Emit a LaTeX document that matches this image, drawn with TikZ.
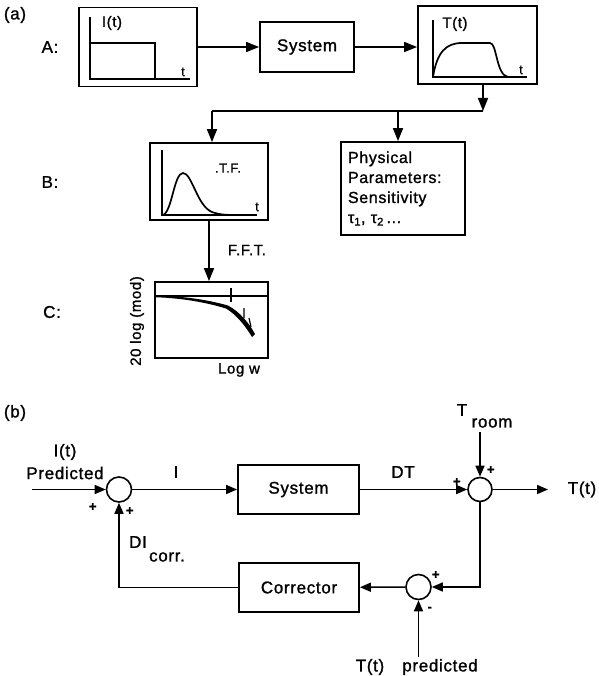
\documentclass[tikz,border=0pt]{standalone}
\usepackage{fontspec}
\setmainfont{Liberation Sans}[LetterSpace=4,FakeBold=1.2]
\usetikzlibrary{arrows.meta}
\begin{document}
\begin{tikzpicture}[x=1pt,y=-1pt,
  box/.style={draw,line width=1.8pt,inner sep=0pt},
  conn/.style={line width=1.6pt},
  arr/.style={conn,-{Triangle[length=13pt,width=10pt]}},
  sarr/.style={conn,-{Triangle[length=11pt,width=9pt]}},
  lbl/.style={font=\fontsize{17}{20}\selectfont,inner sep=0pt},
  mid/.style={font=\fontsize{15}{18}\selectfont,inner sep=0pt},
  sml/.style={font=\fontsize{13}{15}\selectfont,inner sep=0pt},
  plot/.style={line width=1.7pt},
  sumnode/.style={circle,draw,line width=1.6pt,minimum size=25pt,inner sep=0pt}]
\useasboundingbox (0,0) rectangle (598,676);

% ---------- part (a) ----------
\node[lbl] (la) at (15,15) {(a)};
\node[lbl] (lA) at (50,47) {A:};
\node[lbl] (lB) at (50,182) {B:};
\node[lbl] (lC) at (52,312) {C:};

\node[box,minimum width=118pt,minimum height=79pt] (ibox) at (138,47) {};
\node[box,minimum width=94pt,minimum height=50pt,lbl] (sysa) at (307,47) {System};
\node[box,minimum width=119pt,minimum height=78pt] (tbox) at (477.5,45) {};
\node[box,minimum width=118pt,minimum height=77pt] (bbox) at (209,181.5) {};
\node[box,minimum width=124pt,minimum height=93pt,align=left,text width=110pt,
      font=\fontsize{16}{20}\selectfont] (pbox) at (403,188.5)
      {Physical\\Parameters:\\Sensitivity\\τ\textsubscript{1}, τ\textsubscript{2}\,...};
\node[box,minimum width=113pt,minimum height=76pt] (cbox) at (211.5,320) {};

% I(t) plot
\draw[plot] (90,17) -- (90,79) -- (190,79);
\draw[plot] (90,43) -- (155,43) -- (155,79);
\node[mid] (it) at (112,23) {I(t)};
\node[sml] (ita) at (183,72) {t};

% T(t) plot
\draw[plot] (433,20) -- (433,77) -- (527,77);
\draw[plot] (433,77) .. controls (437,52) and (446,43) .. (462,43) -- (490,43)
  .. controls (497,43) and (496,75) .. (508,77);
\node[mid] (tt) at (455,24) {T(t)};
\node[sml] (tta) at (521,70) {t};

% T.F. plot
\draw[plot] (162,150) -- (162,215) -- (257,215);
\draw[plot] (163,215) .. controls (172,212) and (174,173) .. (183,173)
  .. controls (192,173) and (197,206) .. (212,212) .. controls (220,215) and (228,215) .. (235,215);
\node[sml] (tf) at (228,168) {.T.F.};
\node[sml] (tfa) at (257,207) {t};

% Bode plot
\draw[line width=1.5pt] (cbox.west |- 0,296) -- (cbox.east |- 0,296);
\draw[line width=1.3pt] (231,288) -- (231,302);
\fill (155,295.5) .. controls (180,296) and (205,299) .. (228,305.5)
  .. controls (240,312) and (249,323) .. (255,334) -- (252,337)
  .. controls (246,327) and (237,315) .. (226,308.5)
  .. controls (205,302) and (180,298) .. (155,297.2) -- cycle;
\draw[line width=1.2pt] (244,308) -- (244,318) (249,318) -- (251,327);
\node[mid,rotate=90] (ylab) at (137,321) {20 log (mod)};
\node[mid] (xlab) at (239,370) {Log w};

% connectors (a)
\draw[arr] (ibox.east) -- (sysa.west);
\draw[arr] (sysa.east) -- (sysa.east -| tbox.west);
\coordinate (jr) at (483,111);
\coordinate (jl) at (212,111);
\coordinate (jm) at (398,111);
\draw[arr] (jr |- tbox.south) -- (jr);
\draw[conn] (jl) -- (jr);
\draw[arr] (jl) -- (jl |- bbox.north);
\draw[arr] (jm) -- (jm |- pbox.north);
\draw[arr] (bbox.south) -- (bbox.south |- cbox.north);
\node[mid] (fft) at (247,250) {F.F.T.};

% ---------- part (b) ----------
\node[lbl] (lb) at (15,413) {(b)};
\node[sumnode] (s1) at (119,489.5) {};
\node[box,minimum width=121pt,minimum height=49pt,lbl] (sysb) at (298.5,489.5) {System};
\node[sumnode,minimum size=24pt] (s2) at (480,489.5) {};
\node[sumnode] (s3) at (418.5,587) {};
\node[box,minimum width=120pt,minimum height=49pt,lbl] (corr) at (299,587.5) {Corrector};

\coordinate (in) at (32,489.5);
\coordinate (troom) at (480,432);
\coordinate (out) at (548,489.5);
\coordinate (pred) at (418.5,657);

\draw[sarr] (in) -- (s1);
\draw[sarr] (s1) -- (sysb);
\draw[sarr] (sysb) -- (s2);
\draw[sarr] (troom) -- (s2);
\draw[sarr] (s2) -- (out);
\draw[sarr] (s2.south) |- (s3);
\draw[sarr] (pred) -- (s3);
\draw[sarr] (s3) -- (corr);
\draw[sarr] (corr.west) -| (s1);

\node[lbl] (it2) at (65,452) {I(t)};
\node[lbl] (pr1) at (65,473) {Predicted};
\node[sml] (p1) at (93,507) {\textbf{+}};
\node[sml] (p2) at (130,511) {\textbf{+}};
\node[lbl] (ilab) at (176,472) {I};
\node[lbl] (dt) at (403,472) {DT};
\node[sml] (p3) at (457,482) {\textbf{+}};
\node[lbl] (tr1) at (462,410) {T};
\node[lbl] (tr2) at (492,423) {room};
\node[sml] (p4) at (491,470) {\textbf{+}};
\node[lbl] (tout) at (582,489.5) {T(t)};
\node[lbl] (di) at (138,542) {DI};
\node[lbl] (dic) at (167,557) {corr.};
\node[sml] (p5) at (436,575) {\textbf{+}};
\node[sml] (m1) at (430,609) {\textbf{-}};
\node[lbl] (tp1) at (370,667) {T(t)};
\node[lbl] (tp2) at (440,667) {predicted};
\end{tikzpicture}
\end{document}
